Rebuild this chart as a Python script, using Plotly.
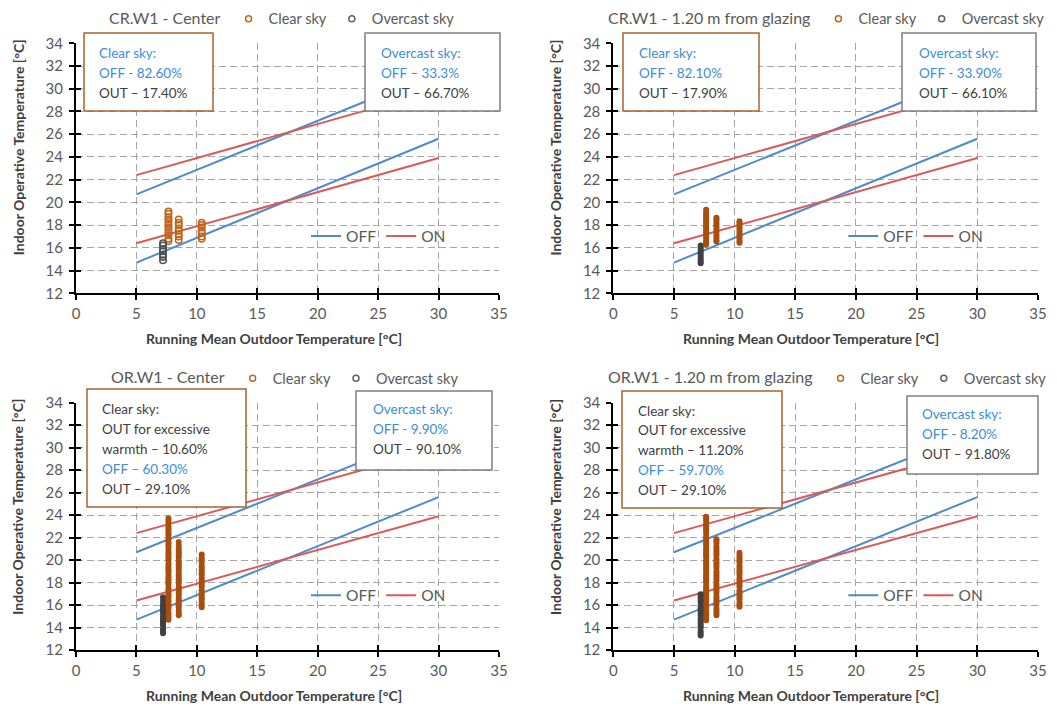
import plotly.graph_objects as go

W, H = 1057, 713

# ---------------- data ----------------
x_ticks = [0, 5, 10, 15, 20, 25, 30, 35]
y_ticks = [12, 14, 16, 18, 20, 22, 24, 26, 28, 30, 32, 34]

trm_limits = [5, 30]
off_upper = [20.7, 31.5]
off_lower = [14.7, 25.6]
on_upper = [22.4, 29.9]
on_lower = [16.4, 23.9]

trm_clear = [7.65, 8.5, 10.4]
trm_overcast = 7.2

panel_titles = ["CR.W1 - Center", "CR.W1 - 1.20 m from glazing",
                "OR.W1 - Center", "OR.W1 - 1.20 m from glazing"]

cr_center_clear = [
    [16.6, 16.8, 17.1, 17.3, 17.6, 17.8, 18.0, 18.3, 18.5, 18.7, 19.0, 19.2],
    [16.7, 17.0, 17.2, 17.5, 17.7, 18.0, 18.2, 18.5],
    [16.8, 17.0, 17.3, 17.5, 17.8, 18.0, 18.2],
]
cr_center_overcast = [14.9, 15.2, 15.4, 15.7, 15.9, 16.2, 16.4]

cr_glazing_clear = [
    [16.3, 16.5, 16.7, 16.9, 17.1, 17.3, 17.5, 17.7, 17.9, 18.1, 18.3, 18.5, 18.7, 18.9, 19.1, 19.35],
    [16.55, 16.7, 16.9, 17.1, 17.3, 17.5, 17.7, 17.9, 18.1, 18.3, 18.5, 18.65],
    [16.45, 16.6, 16.8, 17.0, 17.2, 17.4, 17.6, 17.8, 18.0, 18.2, 18.35],
]
cr_glazing_overcast = [14.65, 14.8, 15.0, 15.2, 15.4, 15.6, 15.8, 16.0, 16.2]

or_center_clear = [
    [14.7, 14.9, 15.1, 15.3, 15.6, 15.8, 16.0, 16.2, 16.4, 16.7, 16.9, 17.1, 17.3, 17.5,
     17.8, 18.0, 18.2, 18.4, 18.6, 18.9, 19.1, 19.3, 19.5, 19.7, 20.0, 20.2, 20.4, 20.6,
     20.8, 21.1, 21.3, 21.5, 21.7, 21.9, 22.2, 22.4, 22.6, 22.8, 23.0, 23.3, 23.5, 23.7],
    [15.1, 15.3, 15.5, 15.8, 16.0, 16.2, 16.4, 16.6, 16.9, 17.1, 17.3, 17.5, 17.7, 18.0,
     18.2, 18.4, 18.6, 18.8, 19.1, 19.3, 19.5, 19.7, 19.9, 20.2, 20.4, 20.6, 20.8, 21.0,
     21.3, 21.6],
    [15.8, 16.0, 16.2, 16.5, 16.7, 16.9, 17.1, 17.3, 17.6, 17.8, 18.0, 18.2, 18.4, 18.7,
     18.9, 19.1, 19.3, 19.5, 19.8, 20.0, 20.2, 20.5],
]
or_center_overcast = [13.5, 13.7, 13.9, 14.2, 14.4, 14.6, 14.8, 15.0, 15.3, 15.5, 15.7,
                      15.9, 16.1, 16.4, 16.7]

or_glazing_clear = [
    [14.65, 14.9, 15.1, 15.3, 15.5, 15.8, 16.0, 16.2, 16.4, 16.6, 16.9, 17.1, 17.3, 17.5,
     17.7, 18.0, 18.2, 18.4, 18.6, 18.8, 19.1, 19.3, 19.5, 19.7, 19.9, 20.2, 20.4, 20.6,
     20.8, 21.0, 21.3, 21.5, 21.7, 21.9, 22.1, 22.4, 22.6, 22.8, 23.0, 23.2, 23.5, 23.7, 23.85],
    [15.1, 15.3, 15.5, 15.7, 16.0, 16.2, 16.4, 16.6, 16.8, 17.1, 17.3, 17.5, 17.7, 17.9,
     18.2, 18.4, 18.6, 18.8, 19.0, 19.3, 19.5, 19.7, 19.9, 20.1, 20.4, 20.6, 20.8, 21.0,
     21.2, 21.5, 21.7, 21.85],
    [15.85, 16.0, 16.2, 16.5, 16.7, 16.9, 17.1, 17.3, 17.6, 17.8, 18.0, 18.2, 18.4, 18.7,
     18.9, 19.1, 19.3, 19.5, 19.8, 20.0, 20.2, 20.4, 20.65],
]
or_glazing_overcast = [13.3, 13.5, 13.7, 14.0, 14.2, 14.4, 14.6, 14.8, 15.1, 15.3, 15.5,
                       15.7, 15.9, 16.2, 16.4, 16.6, 16.8, 16.95]

clear_series = [cr_center_clear, cr_glazing_clear, or_center_clear, or_glazing_clear]
overcast_series = [cr_center_overcast, cr_glazing_overcast, or_center_overcast, or_glazing_overcast]

BLUE_T = "#3C8DD8"
GREY_T = "#404040"
clear_box_lines = [
    [("Clear sky:", BLUE_T), ("OFF - 82.60%", BLUE_T), ("OUT \u2013 17.40%", GREY_T)],
    [("Clear sky:", BLUE_T), ("OFF - 82.10%", BLUE_T), ("OUT \u2013 17.90%", GREY_T)],
    [("Clear sky:", GREY_T), ("OUT for excessive", GREY_T), ("warmth \u2013 10.60%", GREY_T),
     ("OFF \u2013 60.30%", BLUE_T), ("OUT \u2013 29.10%", GREY_T)],
    [("Clear sky:", GREY_T), ("OUT for excessive", GREY_T), ("warmth \u2013 11.20%", GREY_T),
     ("OFF \u2013 59.70%", BLUE_T), ("OUT \u2013 29.10%", GREY_T)],
]
overcast_box_lines = [
    [("Overcast sky:", BLUE_T), ("OFF \u2013 33.3%", BLUE_T), ("OUT \u2013 66.70%", GREY_T)],
    [("Overcast sky:", BLUE_T), ("OFF - 33.90%", BLUE_T), ("OUT \u2013 66.10%", GREY_T)],
    [("Overcast sky:", BLUE_T), ("OFF - 9.90%", BLUE_T), ("OUT \u2013 90.10%", GREY_T)],
    [("Overcast sky:", BLUE_T), ("OFF - 8.20%", BLUE_T), ("OUT \u2013 91.80%", GREY_T)],
]

# ---------------- layout geometry (pixels) ----------------
FONT = "Lato, 'Open Sans', sans-serif"
col_px = [(76, 499), (613.3, 1038)]
row_px = [(43.3, 293.3), (402.7, 650)]
header_left = [107, 606, 109, 606]
# boxes: (x0, y0, x1, y1, text_x, [line y])
clear_boxes = [
    (84, 33, 213, 111, 97, [53, 72.5, 92.5]),
    (623, 33, 759, 111, 637, [53, 72.5, 92.5]),
    (87, 389, 246, 507, 100, [409, 429, 449, 469, 489]),
    (622, 391, 782, 508, 636, [410.5, 430, 450, 470, 490]),
]
overcast_boxes = [
    (365, 33, 500, 111, 379, [53, 72.5, 92.5]),
    (902, 33, 1036, 111, 917, [53, 72.5, 92.5]),
    (356, 391, 492, 470, 371, [409, 429, 449]),
    (907, 396, 1038, 474, 920, [414, 433.5, 453.5]),
]

def fx(p):
    return p / W

def fy(p):
    return 1 - p / H

C_BLUE = "#4F8BCB"
C_RED = "#DA5A5A"
C_CLEAR = "#A94E0E"
C_OVER = "#404040"

fig = go.Figure()
layout = dict(
    width=W, height=H, margin=dict(l=0, r=0, t=0, b=0, autoexpand=False),
    paper_bgcolor="white", plot_bgcolor="white",
    font=dict(family=FONT, color="#595959", size=13),
    shapes=[], annotations=[],
)

for i in range(4):
    r, c = divmod(i, 2)
    n = i + 1
    xs = "" if n == 1 else str(n)
    xr, yr = "x" + xs, "y" + xs
    xo, yo = "x" + str(n + 4), "y" + str(n + 4)
    dense = i > 0
    lg_top = "legend" if n == 1 else "legend" + str(2 * n - 1)
    lg_in = "legend" + str(2 * n)

    # comfort limit lines
    for ys, col, name, show in [(off_upper, C_BLUE, "OFF", True), (off_lower, C_BLUE, "OFF", False),
                                (on_upper, C_RED, "ON", True), (on_lower, C_RED, "ON", False)]:
        fig.add_trace(go.Scatter(x=trm_limits, y=ys, mode="lines", name=name,
                                 line=dict(color=col, width=2), xaxis=xr, yaxis=yr,
                                 legend=lg_in, showlegend=show, hoverinfo="skip"))

    # clear sky points
    cx, cy = [], []
    for t, col_vals in zip(trm_clear, clear_series[i]):
        cx += [t] * len(col_vals)
        cy += col_vals
    ov = overcast_series[i]
    if dense:
        mk_c = dict(symbol="circle", size=6, color=C_CLEAR, line=dict(width=0))
        mk_o = dict(symbol="circle", size=6, color=C_OVER, line=dict(width=0))
    else:
        mk_c = dict(symbol="circle-open", size=6.5, color="#C0651E", line=dict(width=1.5))
        mk_o = dict(symbol="circle-open", size=6.5, color="#505050", line=dict(width=1.5))
    fig.add_trace(go.Scatter(x=cx, y=cy, mode="markers", marker=mk_c, xaxis=xr, yaxis=yr,
                             showlegend=False, name="Clear sky"))
    fig.add_trace(go.Scatter(x=[trm_overcast] * len(ov), y=ov, mode="markers", marker=mk_o,
                             xaxis=xr, yaxis=yr, showlegend=False, name="Overcast sky"))
    # legend entries for the panel header
    fig.add_trace(go.Scatter(x=[None], y=[None], mode="markers", name="Clear sky",
                             marker=dict(symbol="circle-open", size=6, color="#C0651E",
                                         line=dict(width=1.5)),
                             xaxis=xr, yaxis=yr, legend=lg_top))
    fig.add_trace(go.Scatter(x=[None], y=[None], mode="markers", name="Overcast sky",
                             marker=dict(symbol="circle-open", size=6, color="#606060",
                                         line=dict(width=1.5)),
                             xaxis=xr, yaxis=yr, legend=lg_top))
    # dummy traces for the overlay tick axes (crossing tick marks)
    fig.add_trace(go.Scatter(x=[None], y=[None], xaxis=xo, yaxis=yr, showlegend=False))
    fig.add_trace(go.Scatter(x=[None], y=[None], xaxis=xr, yaxis=yo, showlegend=False))

    x0, x1 = col_px[c]
    y0, y1 = row_px[r]
    common = dict(showline=True, linecolor="black", linewidth=2, ticks="outside",
                  ticklen=5, tickwidth=1.5, tickcolor="black", showgrid=True,
                  gridcolor="#A6A6A6", griddash="7px,4px", gridwidth=1, zeroline=False,
                  tickfont=dict(size=15, color="#595959"), fixedrange=True,
                  automargin=False)
    layout["xaxis" + xs] = dict(domain=[fx(x0), fx(x1)], anchor=yr, range=[0, 35],
                                tickvals=x_ticks, ticklabelstandoff=1, **common)
    layout["yaxis" + xs] = dict(domain=[fy(y1), fy(y0)], anchor=xr, range=[12, 34],
                                tickvals=y_ticks, ticklabelstandoff=3, **common)
    tick_only = dict(showline=False, ticks="inside", ticklen=5, tickwidth=1.5,
                     tickcolor="black", showticklabels=False, showgrid=False,
                     zeroline=False, fixedrange=True, automargin=False)
    layout["xaxis" + str(n + 4)] = dict(overlaying=xr, anchor=yr, range=[0, 35],
                                        tickvals=x_ticks, **tick_only)
    layout["yaxis" + str(n + 4)] = dict(overlaying=yr, anchor=xr, range=[12, 34],
                                        tickvals=y_ticks, **tick_only)

    # header legend
    layout[lg_top] = dict(orientation="h", x=fx(header_left[i]), y=fy(y0 - 24.5),
                          xanchor="left", yanchor="middle", bgcolor="rgba(0,0,0,0)",
                          title=dict(text=panel_titles[i], side="left",
                                     font=dict(size=16, color="#595959")),
                          font=dict(size=14.5, color="#595959"), itemwidth=30,
                          tracegroupgap=0)
    # inner OFF / ON legend
    layout[lg_in] = dict(orientation="h", x=fx(x0 + 230), y=fy(y0 + 193), xanchor="left",
                         yanchor="middle", bgcolor="rgba(0,0,0,0)",
                         font=dict(size=15.5, color="#595959"), itemwidth=30)

    # axis titles
    layout["annotations"].append(dict(
        text="<b>Running Mean Outdoor Temperature [°C]</b>", xref="paper", yref="paper",
        x=fx(x0 + 198), y=fy(y1 + 45), showarrow=False, xanchor="center", yanchor="middle",
        font=dict(size=14, color="#404040")))
    layout["annotations"].append(dict(
        text="<b>Indoor Operative Temperature [°C]</b>", xref="paper", yref="paper",
        x=fx(x0 - 58), y=fy(y0 + 104), showarrow=False, textangle=-90,
        xanchor="center", yanchor="middle", font=dict(size=14, color="#404040")))

    # text boxes
    for box, lines, bcol in [(clear_boxes[i], clear_box_lines[i], "#A9622D"),
                             (overcast_boxes[i], overcast_box_lines[i], "#7F7F7F")]:
        bx0, by0, bx1, by1, tx, lys = box
        layout["shapes"].append(dict(type="rect", xref="paper", yref="paper",
                                     x0=fx(bx0), x1=fx(bx1), y0=fy(by1), y1=fy(by0),
                                     line=dict(color=bcol, width=1.5), fillcolor="white",
                                     layer="above"))
        for (txt, tcol), ly in zip(lines, lys):
            layout["annotations"].append(dict(
                text=txt, xref="paper", yref="paper", x=fx(tx), y=fy(ly),
                showarrow=False, xanchor="left", yanchor="middle",
                font=dict(size=13.5, color=tcol)))

fig.update_layout(**layout)
fig.write_html("out.html")
